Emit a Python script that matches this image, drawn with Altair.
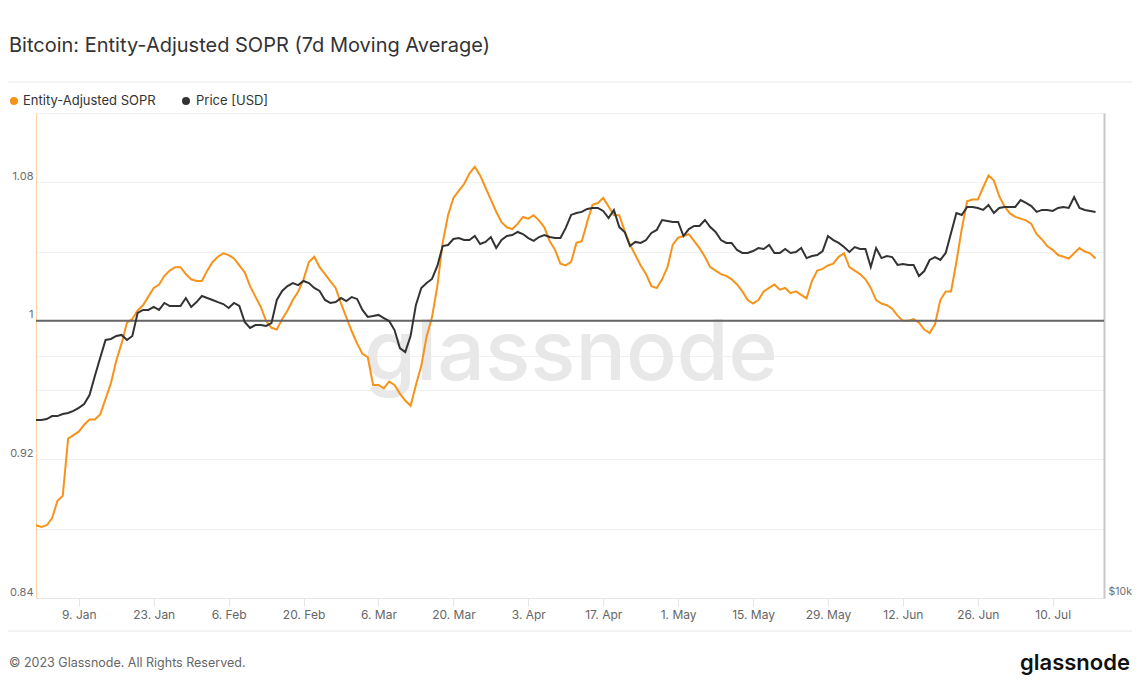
import altair as alt
import pandas as pd

# ---- data (daily, 1 Jan 2023 -> 18 Jul 2023) ----
dates = pd.date_range("2023-01-01", periods=199, freq="D").strftime("%Y-%m-%dT00:00:00").tolist()

sopr = [
    0.882, 0.881, 0.882, 0.886, 0.896, 0.899, 0.932, 0.934, 0.936, 0.940,
    0.943, 0.943, 0.946, 0.955, 0.964, 0.977, 0.987, 0.999, 1.001, 1.006,
    1.009, 1.014, 1.019, 1.021, 1.026, 1.029, 1.031, 1.031, 1.027, 1.024,
    1.023, 1.023, 1.029, 1.034, 1.037, 1.039, 1.038, 1.036, 1.032, 1.028,
    1.020, 1.014, 1.008, 1.000, 0.996, 0.995, 1.001, 1.006, 1.012, 1.017,
    1.024, 1.034, 1.037, 1.031, 1.027, 1.023, 1.019, 1.010, 1.002, 0.994,
    0.987, 0.981, 0.979, 0.963, 0.963, 0.961, 0.965, 0.963, 0.958, 0.954,
    0.951, 0.963, 0.974, 0.991, 1.002, 1.020, 1.045, 1.061, 1.071, 1.075,
    1.079, 1.085, 1.089, 1.084, 1.077, 1.070, 1.063, 1.057, 1.054, 1.053,
    1.056, 1.060, 1.059, 1.061, 1.058, 1.054, 1.046, 1.041, 1.033, 1.032,
    1.034, 1.045, 1.046, 1.057, 1.067, 1.068, 1.071, 1.066, 1.061, 1.061,
    1.052, 1.044, 1.038, 1.032, 1.027, 1.020, 1.019, 1.024, 1.031, 1.044,
    1.048, 1.049, 1.050, 1.046, 1.042, 1.037, 1.031, 1.029, 1.027, 1.026,
    1.024, 1.021, 1.017, 1.012, 1.010, 1.012, 1.017, 1.019, 1.021, 1.018,
    1.019, 1.016, 1.017, 1.015, 1.013, 1.023, 1.029, 1.030, 1.032, 1.033,
    1.037, 1.039, 1.031, 1.029, 1.027, 1.024, 1.019, 1.012, 1.010, 1.009,
    1.007, 1.003, 1.000, 1.000, 1.001, 0.999, 0.995, 0.993, 0.998, 1.012,
    1.017, 1.017, 1.034, 1.053, 1.069, 1.070, 1.070, 1.077, 1.084, 1.081,
    1.072, 1.066, 1.062, 1.060, 1.059, 1.058, 1.056, 1.050, 1.047, 1.043,
    1.041, 1.038, 1.037, 1.036, 1.039, 1.042, 1.040, 1.039, 1.036,
]

price = [
    16630, 16630, 16680, 16820, 16820, 16920, 16970, 17070, 17220, 17410,
    17860, 18860, 19870, 20910, 20970, 21150, 21210, 20910, 21150, 22590,
    22780, 22780, 22980, 22780, 23240, 23040, 23040, 23040, 23570, 22980,
    23300, 23710, 23570, 23440, 23300, 23170, 22910, 23240, 23040, 22010,
    21640, 21820, 21820, 21760, 21940, 23440, 24050, 24390, 24600, 24460,
    24750, 24600, 24260, 24050, 23440, 23240, 23300, 23570, 23370, 23640,
    23510, 22780, 22330, 22390, 22460, 22260, 22070, 21510, 20430, 20200,
    21150, 23110, 24260, 24600, 24890, 25830, 27350, 27430, 27900, 27980,
    27820, 27820, 28140, 27510, 27670, 28060, 27190, 27820, 28140, 28220,
    28470, 28300, 27980, 27750, 28060, 28220, 28060, 27980, 27980, 28800,
    29890, 30060, 30150, 30410, 30490, 30490, 30230, 29630, 30320, 28870,
    28470, 27350, 27670, 27590, 27820, 28390, 28630, 29460, 29380, 29300,
    29300, 28140, 28710, 28960, 28960, 29460, 28870, 28470, 27820, 27590,
    27590, 27040, 26810, 26810, 26960, 27190, 27120, 27430, 26810, 26810,
    27120, 26810, 26890, 27190, 26420, 26580, 26650, 26960, 28140, 27820,
    27590, 27270, 26890, 27270, 27120, 27120, 25760, 27190, 26420, 26580,
    26500, 25910, 25980, 25910, 25910, 25100, 25460, 26280, 26500, 26280,
    26810, 28390, 30060, 29890, 30580, 30580, 30490, 30320, 30750, 30060,
    30490, 30580, 30580, 30580, 31190, 30930, 30660, 30150, 30320, 30320,
    30230, 30490, 30580, 30490, 31460, 30490, 30320, 30230, 30150,
]

tick_days = [(1, 9), (1, 23), (2, 6), (2, 20), (3, 6), (3, 20), (4, 3), (4, 17),
             (5, 1), (5, 15), (5, 29), (6, 12), (6, 26), (7, 10)]
sopr_ticks = [0.84, 0.88, 0.92, 0.96, 1.0, 1.04, 1.08, 1.12]
price_ticks = [10000, 20000]

TITLE = "Bitcoin: Entity-Adjusted SOPR (7d Moving Average)"
SERIES = ["Entity-Adjusted SOPR", "Price [USD]"]
FOOTER = "\u00a9 2023 Glassnode. All Rights Reserved."
BRAND = "glassnode"

ORANGE = "#f7931a"
DARK = "#333333"
FONT = "Inter"

# plot origin on the page: x = 8 + PAD_L, y = 8 + PAD_T
PAD_L, PAD_T = 28, 105
W, H = 1068, 485

df = pd.DataFrame({"date": dates, "sopr": sopr, "price": price})

x_enc = alt.X(
    "date:T",
    scale=alt.Scale(domain=[alt.DateTime(year=2023, month=1, date=1),
                            alt.DateTime(year=2023, month=7, date=19, hours=14)]),
    axis=alt.Axis(
        values=[alt.DateTime(year=2023, month=m, date=d) for m, d in tick_days],
        format="%-d. %b", title=None, grid=False,
        labelColor="#666666", labelFontSize=12, labelFont=FONT,
        tickColor="#e6e6e6", tickSize=8, domainColor="#e6e6e6",
        labelPadding=3,
    ),
)

sopr_scale = alt.Scale(domain=[0.84, 1.12], nice=False, zero=False)

orange = alt.Chart(df).mark_line(color=ORANGE, strokeWidth=2).encode(
    x=x_enc,
    y=alt.Y("sopr:Q", scale=sopr_scale, axis=alt.Axis(
        orient="left", values=sopr_ticks, title=None,
        labelExpr="round(datum.value*100) % 8 == 4 ? format(datum.value, '.2~f') : ''",
        grid=True, gridColor="#f0f0f0", ticks=False,
        domainColor="#fbd3a3", domainWidth=1,
        labelPadding=3, labelOffset=-6, labelColor="#6d6d6d",
        labelFontSize=11, labelFont=FONT,
    )),
)

one_rule = alt.Chart(pd.DataFrame({"v": [1.0]})).mark_rule(
    color="#666666", strokeWidth=2).encode(y=alt.datum(1.0))

sopr_layer = alt.layer(orange, one_rule)

black = alt.Chart(df).mark_line(color=DARK, strokeWidth=2).encode(
    x=x_enc,
    y=alt.Y("price:Q", scale=alt.Scale(type="log", domain=[10000, 40000], nice=False),
            axis=alt.Axis(
                orient="right", values=price_ticks, title=None,
                labelExpr="datum.value == 10000 ? '$10k' : ''",
                grid=True, gridColor="#f0f0f0", ticks=False,
                domainColor="#c8c8c8", domainWidth=2,
                labelPadding=4, labelOffset=-7, labelColor="#6d6d6d",
                labelFontSize=10.5, labelFont=FONT,
            )),
)


def txt(s, px, py, **kw):
    # px, py given in page pixels
    return alt.Chart(pd.DataFrame({"t": [s]})).mark_text(font=FONT, **kw).encode(
        x=alt.value(px - 8 - PAD_L), y=alt.value(py - 8 - PAD_T), text="t:N")


def dot(px, py, color):
    return alt.Chart(pd.DataFrame({"t": [0]})).mark_circle(
        size=64, opacity=1, color=color).encode(
        x=alt.value(px - 8 - PAD_L), y=alt.value(py - 8 - PAD_T))


def hline(py):
    return alt.Chart(pd.DataFrame({"t": [0]})).mark_rule(
        color="#e8e8e8", strokeWidth=1).encode(
        x=alt.value(-40), x2=alt.value(1120), y=alt.value(py - 8 - PAD_T))


watermark = txt(BRAND, 571, 380, align="center", baseline="alphabetic",
                fontSize=84, fontWeight=500, color="#e8e8e8")

title = txt(TITLE, 9, 52, align="left", baseline="alphabetic",
            fontSize=20, color="#333333")
leg1_dot = dot(14, 101, ORANGE)
leg1_txt = txt(SERIES[0], 23, 101, align="left", baseline="middle",
               fontSize=13, color="#333333")
leg2_dot = dot(186, 101, DARK)
leg2_txt = txt(SERIES[1], 196, 101, align="left", baseline="middle",
               fontSize=13, color="#333333")
footer = txt(FOOTER, 9, 663, align="left", baseline="middle",
             fontSize=12.5, color="#666666")
brand = txt(BRAND, 1020, 663, align="left", baseline="middle",
            fontSize=22, fontWeight=600, color="#111111")

chart = alt.layer(
    watermark, hline(82), hline(631),
    sopr_layer, black,
    title, leg1_dot, leg1_txt, leg2_dot, leg2_txt, footer, brand,
).resolve_scale(y="independent").properties(
    width=W, height=H,
    autosize=alt.AutoSizeParams(type="none"),
    padding={"left": PAD_L, "top": PAD_T, "right": 1124 - PAD_L - W, "bottom": 84},
    background="white",
).configure_view(stroke=None)

chart.save("out.html", embed_options={"renderer": "svg", "actions": False})
